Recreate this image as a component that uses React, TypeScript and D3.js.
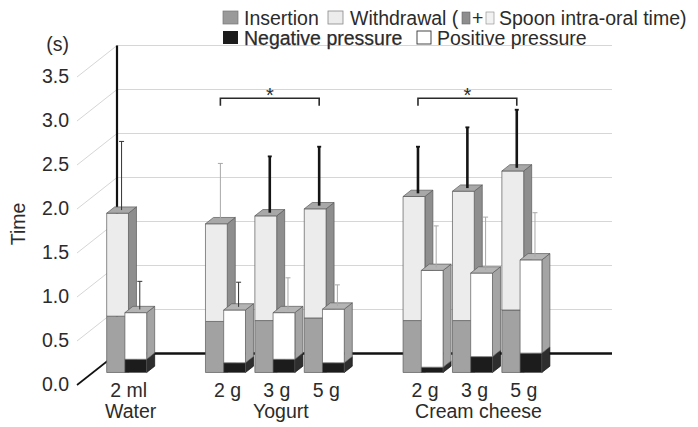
import React from "react";
import * as d3 from "d3";

// ---------------- data ----------------
const categories = ["2 ml", "2 g", "3 g", "5 g", "2 g", "3 g", "5 g"];
const groupNames = ["Water", "Yogurt", "Cream cheese"];
const groupIndex = [0, 1, 1, 1, 2, 2, 2];

// spoon intra-oral time = insertion + withdrawal (s)
const insertion = [0.64, 0.58, 0.59, 0.62, 0.59, 0.59, 0.71];
const withdrawal = [1.17, 1.11, 1.19, 1.24, 1.41, 1.47, 1.58];
const intraOralSD = [0.78, 0.65, 0.64, 0.67, 0.53, 0.69, 0.66];

// pressure (s)
const negativePressure = [0.15, 0.11, 0.15, 0.11, 0.06, 0.18, 0.22];
const positivePressure = [0.53, 0.6, 0.53, 0.61, 1.1, 0.95, 1.06];
const pressureSD = [0.32, 0.28, 0.36, 0.24, 0.47, 0.6, 0.5];

const yTicks = [0, 0.5, 1, 1.5, 2, 2.5, 3, 3.5];
const yMax = 3.5;

const significance = [
  { from: 1, to: 3, label: "*" },
  { from: 4, to: 6, label: "*" },
];
const significanceLevel = 3.08;

// error-bar line styles (separate from values)
const intraOralErrStyle = ["thin", "faint", "bold", "bold", "bold", "bold", "bold"];
const pressureErrStyle = ["thin", "thin", "faint", "faint", "faint", "faint", "faint"];

// ---------------- layout ----------------
const W = 698;
const H = 427;
const FONT = "'Liberation Sans', Arial, Helvetica, sans-serif";
const FS = 19.5;
const TEXT = "#2b2b2b";
const FX0 = 77; // front-left x of plot
const FX1 = 572; // front-right x of plot
const Y0 = 385; // front floor y
const DX = 40; // full depth offset x
const DY = 31.5; // full depth offset y
const ZB = 0.397; // bar front depth
const DZ = 0.2; // bar depth

const yScale = d3.scaleLinear().domain([0, yMax]).range([0, 308]);
const proj = (x: number, v: number, z: number): [number, number] => [
  x + z * DX,
  Y0 - yScale(v) - z * DY,
];

// slots with spacers between groups
const slotIds: string[] = [];
const catSlot: string[] = [];
categories.forEach((c, i) => {
  if (i > 0 && groupIndex[i] !== groupIndex[i - 1]) slotIds.push("gap" + i);
  const id = "c" + i;
  slotIds.push(id);
  catSlot.push(id);
});
const xBand = d3
  .scaleBand<string>()
  .domain(slotIds)
  .range([86.1, 530.7])
  .paddingInner(0.19)
  .paddingOuter(0.095);

const errStyles: Record<string, { stroke: string; width: number; cap: number }> = {
  thin: { stroke: "#333", width: 1, cap: 5 },
  faint: { stroke: "#a8a8a8", width: 1, cap: 5 },
  bold: { stroke: "#151515", width: 2.6, cap: 4 },
};

const pts = (p: [number, number][]) => p.map((q) => q.join(",")).join(" ");

function Box({
  x0, x1, v0, v1, front, side, top, showTop, sideStroke,
}: {
  x0: number; x1: number; v0: number; v1: number;
  front: string; side: string; top: string; showTop: boolean; sideStroke?: string;
}) {
  const z0 = ZB;
  const z1 = ZB + DZ;
  const stroke = "#5a5a5a";
  const sw = 0.7;
  return (
    <g>
      <polygon
        points={pts([proj(x1, v0, z0), proj(x1, v0, z1), proj(x1, v1, z1), proj(x1, v1, z0)])}
        fill={side}
        stroke={sideStroke || stroke}
        strokeWidth={sw}
      />
      <polygon
        points={pts([proj(x0, v0, z0), proj(x1, v0, z0), proj(x1, v1, z0), proj(x0, v1, z0)])}
        fill={front}
        stroke={stroke}
        strokeWidth={sw}
      />
      {showTop && (
        <polygon
          points={pts([proj(x0, v1, z0), proj(x1, v1, z0), proj(x1, v1, z1), proj(x0, v1, z1)])}
          fill={top}
          stroke={stroke}
          strokeWidth={sw}
        />
      )}
    </g>
  );
}

function ErrorBar({ xc, v, sd, style }: { xc: number; v: number; sd: number; style: string }) {
  const s = errStyles[style];
  const zc = ZB + DZ / 2;
  const [x, y1] = proj(xc, v, zc);
  const [, y2] = proj(xc, v + sd, zc);
  return (
    <g>
      <line x1={x} x2={x} y1={y1} y2={y2} stroke={s.stroke} strokeWidth={s.width} />
      <line x1={x - s.cap / 2} x2={x + s.cap / 2} y1={y2} y2={y2} stroke={s.stroke} strokeWidth={Math.max(1, s.width * 0.7)} />
    </g>
  );
}

export default function App() {
  const bw = xBand.bandwidth();
  const tallW = bw * 0.545;
  const pressOff = bw * 0.455;

  const labelX = (i: number) => proj(xBand(catSlot[i])!, 0, ZB)[0] + 22;

  const groupLabelX = groupNames.map((_, g) => {
    const members = categories.map((_, i) => i).filter((i) => groupIndex[i] === g);
    const m = d3.mean(members, (i) => labelX(i))!;
    return members.length > 1 ? m + 4 : m + 2;
  });

  const backTop = proj(FX0, yMax, 1)[1];
  const backFloor = proj(FX0, 0, 1)[1];

  return (
    <svg
      width={W}
      height={H}
      viewBox={`0 0 ${W} ${H}`}
      style={{ position: "absolute", left: 0, top: 0, background: "#fff" }}
      fontFamily={FONT}
    >
      <rect x={0} y={0} width={W} height={H} fill="#fff" />

      {/* back-wall gridlines */}
      {yTicks.filter((t) => t > 0).map((t) => {
        const [xa, ya] = proj(FX0, t, 1);
        const [xb] = proj(FX1, t, 1);
        return <line key={"g" + t} x1={xa} x2={xb} y1={ya} y2={ya} stroke="#d6d6d6" strokeWidth={1} />;
      })}
      {/* side-wall diagonal gridlines */}
      {yTicks.filter((t) => t > 0).map((t) => {
        const [xa, ya] = proj(FX0, t, 0);
        const [xb, yb] = proj(FX0, t, 1);
        return <line key={"d" + t} x1={xa} x2={xb} y1={ya} y2={yb} stroke="#d6d6d6" strokeWidth={1} />;
      })}
      {/* axis lines */}
      <line x1={proj(FX0, 0, 0)[0]} y1={proj(FX0, 0, 0)[1]} x2={proj(FX0, 0, 1)[0]} y2={backFloor} stroke="#111" strokeWidth={1.6} />
      <line x1={proj(FX0, 0, 1)[0]} x2={proj(FX0, 0, 1)[0]} y1={backTop} y2={backFloor} stroke="#111" strokeWidth={2.2} />
      <line x1={proj(FX0, 0, 1)[0]} x2={proj(FX1, 0, 1)[0]} y1={backFloor} y2={backFloor} stroke="#111" strokeWidth={2.6} />

      {/* y tick labels */}
      {yTicks.map((t) => (
        <text
          key={"t" + t}
          x={69}
          y={proj(FX0, t, 0)[1] - 1}
          textAnchor="end"
          dominantBaseline="central"
          fontSize={FS}
          fill={TEXT}
        >
          {d3.format(".1f")(t)}
        </text>
      ))}
      <text x={69} y={44} textAnchor="end" dominantBaseline="central" fontSize={FS} fill={TEXT}>
        (s)
      </text>
      <text
        transform={`translate(18,224) rotate(-90)`}
        textAnchor="middle"
        dominantBaseline="central"
        fontSize={FS}
        fill={TEXT}
      >
        Time
      </text>

      {/* bars */}
      {categories.map((c, i) => {
        const b = xBand(catSlot[i])!;
        const total = insertion[i] + withdrawal[i];
        const ptotal = negativePressure[i] + positivePressure[i];
        return (
          <g key={"bar" + i}>
            <Box x0={b} x1={b + tallW} v0={0} v1={insertion[i]} front="#a2a2a2" side="#8e8e8e" top="#a8a8a8" showTop={false} />
            <Box x0={b} x1={b + tallW} v0={insertion[i]} v1={total} front="#ececec" side="#8e8e8e" top="#a8a8a8" showTop={true} />
            <ErrorBar xc={b + tallW / 2} v={total} sd={intraOralSD[i]} style={intraOralErrStyle[i]} />
            <Box x0={b + pressOff} x1={b + bw} v0={0} v1={negativePressure[i]} front="#1c1c1c" side="#2e2e2e" top="#333" showTop={false} sideStroke="#111" />
            <Box x0={b + pressOff} x1={b + bw} v0={negativePressure[i]} v1={ptotal} front="#ffffff" side="#a4a4a4" top="#b4b4b4" showTop={true} />
            <ErrorBar xc={b + pressOff + (bw - pressOff) / 2} v={ptotal} sd={pressureSD[i]} style={pressureErrStyle[i]} />
          </g>
        );
      })}

      {/* significance brackets */}
      {significance.map((s, k) => {
        const zc = ZB + DZ / 2;
        const xa = proj(xBand(catSlot[s.from])! + tallW / 2, significanceLevel, zc)[0];
        const xb = proj(xBand(catSlot[s.to])! + tallW / 2, significanceLevel, zc)[0];
        const y = proj(0, significanceLevel, zc)[1];
        return (
          <g key={"sig" + k}>
            <path d={`M${xa},${y + 7.5}V${y}H${xb}V${y + 7.5}`} fill="none" stroke="#2a2a2a" strokeWidth={1.6} />
            <text x={(xa + xb) / 2} y={y + 4} textAnchor="middle" fontSize={20} fill={TEXT}>
              {s.label}
            </text>
          </g>
        );
      })}

      {/* category labels */}
      {categories.map((c, i) => (
        <text key={"cl" + i} x={labelX(i)} y={390} textAnchor="middle" dominantBaseline="central" fontSize={FS} fill={TEXT}>
          {c}
        </text>
      ))}
      {groupNames.map((g, k) => (
        <text key={"gl" + k} x={groupLabelX[k]} y={411} textAnchor="middle" dominantBaseline="central" fontSize={FS} fill={TEXT}>
          {g}
        </text>
      ))}

      {/* legend */}
      <g fontSize={FS} fill={TEXT}>
        <rect x={223} y={11} width={15} height={13} fill="#9a9a9a" stroke="#777" strokeWidth={0.7} />
        <text x={244} y={17.5} dominantBaseline="central">Insertion</text>
        <rect x={328} y={11} width={15} height={13} fill="#ececec" stroke="#888" strokeWidth={0.8} />
        <text x={350} y={17.5} dominantBaseline="central">Withdrawal (</text>
        <rect x={462} y={12} width={8} height={12} fill="#8e8e8e" stroke="#666" strokeWidth={0.6} />
        <text x={472} y={17.5} dominantBaseline="central">+</text>
        <rect x={486} y={12} width={8} height={12} fill="#f2f2f2" stroke="#888" strokeWidth={0.6} />
        <text x={499} y={17.5} dominantBaseline="central">Spoon intra-oral time)</text>

        <rect x={223} y={31} width={15} height={13} fill="#1c1c1c" />
        <text x={244} y={37.5} dominantBaseline="central" stroke={TEXT} strokeWidth={0.25}>Negative pressure</text>
        <rect x={417} y={31} width={14} height={13} fill="#fff" stroke="#333" strokeWidth={0.9} />
        <text x={437} y={37.5} dominantBaseline="central">Positive pressure</text>
      </g>
    </svg>
  );
}
